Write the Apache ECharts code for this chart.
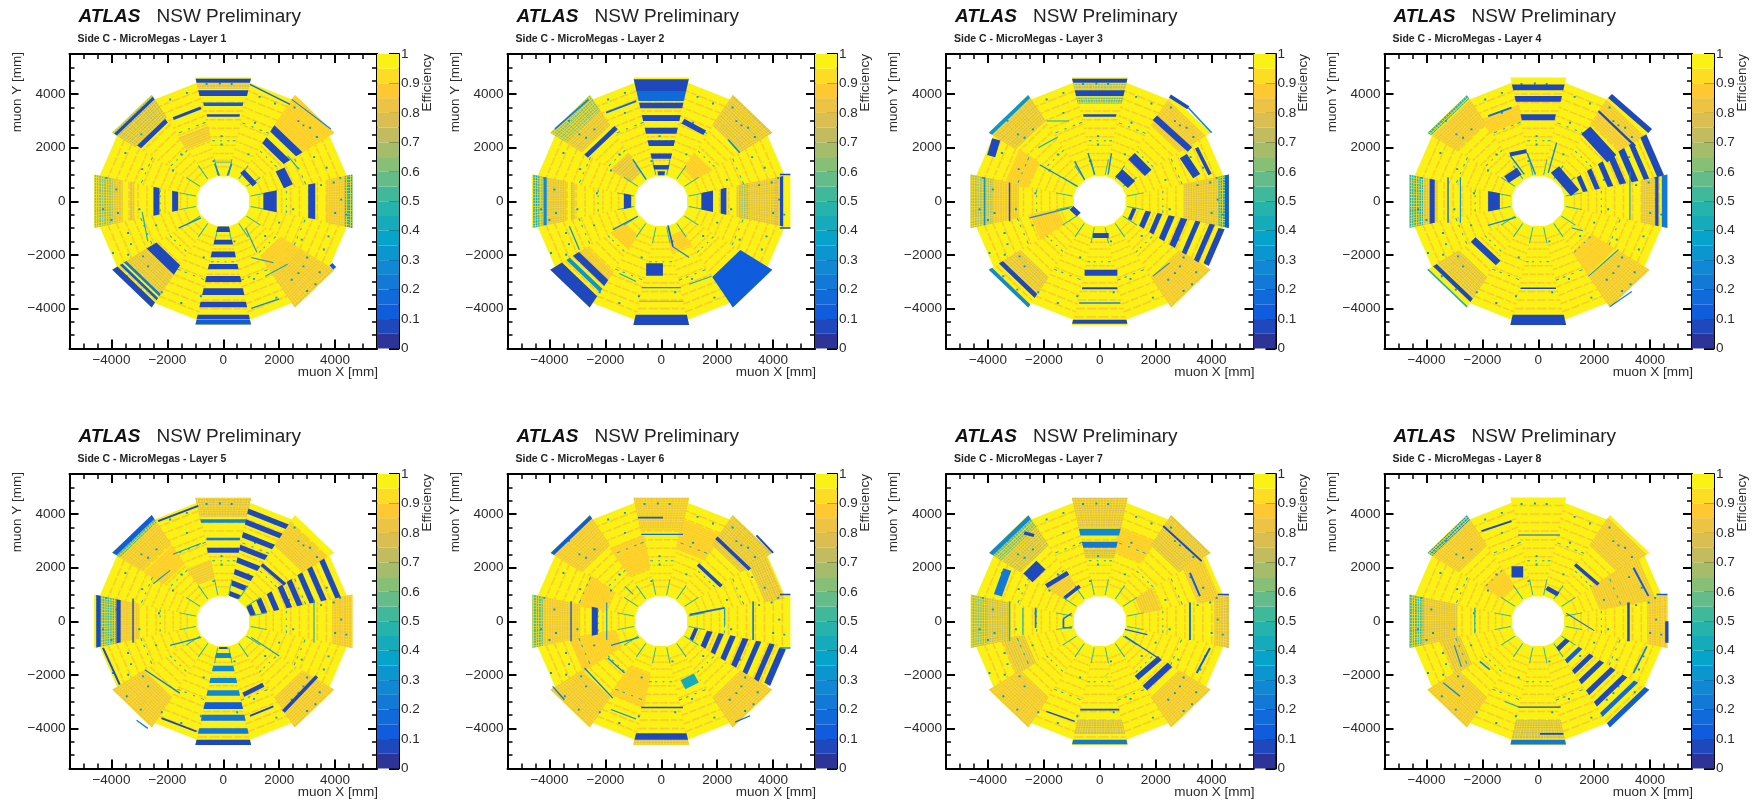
<!DOCTYPE html>
<html><head><meta charset="utf-8">
<style>html,body{margin:0;background:#fff}#c{width:1754px;height:800px;filter:blur(.4px)}</style>
<script src="https://cdn.jsdelivr.net/npm/echarts@6/dist/echarts.min.js"></script>
</head><body><div id="c"></div><script>
// ---------- tick labels and scale ----------
const xyLabels=[-4000,-2000,0,2000,4000];
const effLevels=[0,.05,.1,.15,.2,.25,.3,.35,.4,.45,.5,.55,.6,.65,.7,.75,.8,.85,.9,.95];
const birdR=[.2082,.0592,.0780,.0232,.1802,.5301,.8186,.9956,.9764];
const birdG=[.1664,.3599,.5041,.6419,.7178,.7492,.7328,.7862,.9832];
const birdB=[.5293,.8684,.8385,.7914,.6425,.4662,.3499,.1968,.0539];
// ---------- detector structures common to every layer (mm) ----------
const baseEff=.975;
const largeRings=[1260,1500,1760,2060,2380,2700,3020,3340,3660,3980,4300];
const smallRings=[1380,1640,1930,2220,2540,2860,3180,3500,3820,4120];
const ringSegs=[[-.98,-.62],[-.52,-.14],[-.06,.34],[.44,.72],[.8,.98]];
const mottleR=[40,130,215,310,390,490,570,665,750,850,930,1020,1110,1190,1290];
const mottleV=[-.92,-.81,-.72,-.6,-.5,-.37,-.27,-.15,-.04,.07,.19,.28,.41,.52,.63,.71,.83,.93];
const tealArcs=[[1,2950],[3,2950],[5,2950],[7,2950],[9,2950],[11,2950],[13,2950],[15,2950],[0,2240],[2,2240],[4,2240],[6,2240],[8,2240],[10,2240],[12,2240],[14,2240]];
const tealSegs=[[-.9,-.7],[-.45,-.3],[.1,.22],[.6,.8]];
const spokeAngles=[11.25,33.75,56.25,78.75,101.25,123.75,146.25,168.75,191.25,213.75,236.25,258.75,281.25,303.75,326.25,348.75];
const pillars=[[2868,2833],[2689,2995],[3107,2746],[2689,-2683],[2868,-2434],[2450,-2933],[-598,4380],[-120,4400],[300,4380],[-4182,874],[-3764,-437],[-3824,437],[4182,874],[4218,62],[-2868,-2059],[-2689,-2434],[-2928,2496],[-2390,2683],[-2689,2371],[-60,2434],[-60,2122],[1135,2933],[-3944,-1935],[3764,-1310],[-3406,-1185],[2808,-1435],[4003,-437],[1900,-3600],[-1500,-3800],[-1300,3300],[3500,600],[-3000,-300],[1500,-1300],[-700,-2100],[3300,-3100],[-3300,3000],[-2400,-900],[-1800,1150],[2350,800],[2000,-800],[-3500,1800],[-2900,1200],[3250,1650],[3700,1250],[-3400,-2000],[-2200,-3400],[1300,3900],[1850,3650],[-1300,4050],[-1900,3800],[-800,-3550],[500,-3400],[1100,-2900],[3000,-2100],[3600,-1800],[-3300,-1600],[-1500,1750],[900,1750],[400,-1500],[-350,1500],[2500,-300],[-2300,300],[4400,-500],[-4300,-300],[-4000,-700],[3950,700],[2550,3500],[3350,2400],[3000,-3350],[3450,-2650],[-2950,-3300],[-3450,-2800]];
// ---------- layer data: tones [sector,r0,r1,eff], strips [sector,r0,r1,eff,v0,v1], bands [x1,y1,x2,y2,thick,eff] ----------
const layer1Tones=[[5,2300,2800,.85],[14,2400,3200,.88],[6,3650,4430,.72],[6,4540,4620,.6],[10,3200,4000,.8],[14,3200,4620,.83],[2,3300,4620,.86],[0,3700,4350,.82],[0,4350,4500,.5],[0,4500,4620,.36],[8,3950,4600,.62],[8,3600,3950,.78],[8,3180,3330,.8],[4,4200,4400,.8]];
const layer1Strips=[[12,940,1150,.06],[12,1440,1620,.06],[12,1880,2090,.06],[12,2340,2540,.06],[12,2790,3020,.06],[12,3250,3500,.06],[12,3750,3960,.06],[12,4240,4420,.06],[12,4440,4600,.12],[4,4430,4580,.06],[4,3930,4150,.06],[4,3560,3690,.15,-.9,.9],[4,3160,3250,.06,-.85,.85],[6,4430,4540,.06],[6,3480,3650,.06,-.9,.9],[10,4400,4620,.06],[10,4030,4130,.25],[10,4200,4300,.15],[10,2780,3190,.06],[2,3030,3300,.06],[2,2515,2785,.06],[0,3040,3290,.06,-.95,.95],[0,1434,1912,.06],[8,2282,2498,.06],[8,1613,1828,.06]];
const layer1Bands=[[956,4368,2390,3619,50,.2],[2450,3806,3850,2700,40,.3],[-1790,3090,-800,3490,110,.06],[2031,1186,2330,562,350,.06],[680,1120,1130,620,200,.06],[-2900,-400,-2700,-1500,40,.4],[-1600,-1000,-800,-620,50,.3],[1000,-4000,2000,-3650,50,.3],[800,-1000,1200,-1900,40,.35],[1000,-2100,1800,-2300,40,.35],[-300,1400,-150,950,60,.3],[300,1400,150,950,60,.3],[-280,1460,300,1460,30,.4],[3850,-2350,3990,-2500,140,.12],[1500,-2800,2300,-2350,40,.4],[2300,1700,2700,1200,40,.4]];
const layer2Tones=[[6,1300,2100,.8],[10,1500,2100,.88],[2,1400,2100,.88],[13,1300,1900,.88],[6,3950,4600,.62],[6,3300,3950,.8],[2,3300,4620,.78],[0,2700,4200,.8],[0,2800,3100,.7],[8,4362,4577,.45],[8,4080,4362,.65],[8,3400,4080,.76],[8,3100,3230,.72],[10,3100,3420,.82]];
const layer2Strips=[[4,4120,4560,.06],[4,3740,4120,.2],[4,3470,3680,.06],[4,3000,3220,.06],[4,2520,2750,.06],[4,2060,2280,.06],[4,1585,1785,.06],[4,1185,1350,.06],[4,970,1120,.06,-.55,.55],[12,4240,4620,.06],[12,3200,3250,.3],[12,3720,3760,.7],[14,3290,4620,.12],[10,4130,4620,.06],[10,3800,3950,.35],[10,3420,3680,.06],[0,1434,1852,.06],[0,2127,2330,.06],[0,4242,4362,.06],[8,4100,4210,.3],[8,1075,1338,.06]];
const layer2Bands=[[-540,-2550,60,-2550,470,.06],[-2689,1685,-1613,2746,170,.06],[-1972,3307,-896,3744,70,.2],[777,2995,1553,2558,200,.06],[2390,2309,2808,1810,60,.3],[4242,1000,4620,1000,60,.06],[4242,-1000,4620,-1000,60,.06],[813,-1897,815,-1899,200,.1],[-3286,-936,-2928,-1810,45,.35],[-1016,1560,-538,811,50,.3],[-1732,-1060,-836,-560,50,.25],[-1500,-2700,-900,-3000,40,.45],[240,-900,420,-1700,60,.15],[420,-1700,1000,-2100,40,.3],[-3800,2700,-2600,3800,60,.25],[1000,-3100,1800,-2800,40,.4]];
const layer3Tones=[[7,2600,3400,.88],[9,1500,2500,.88],[6,3500,4480,.76],[10,3300,4000,.8],[0,3000,4250,.8],[0,4250,4480,.45],[8,3800,4620,.7],[8,2900,3800,.85],[2,3300,4400,.82],[14,3300,4600,.84],[4,4170,4420,.7],[4,3650,3900,.6]];
const layer3Strips=[[4,4430,4580,.06],[4,3930,4150,.06],[4,3160,3250,.06,-.85,.85],[12,4430,4580,.06],[12,3210,3290,.1,-.9,.9],[12,3770,3830,.3,-.9,.9],[6,4480,4620,.35],[10,4480,4620,.3],[10,4030,4200,.06],[15,1180,1320,.06,-.9,.9],[15,1650,1850,.06,-.9,.9],[15,2070,2250,.06,-.9,.9],[15,2480,2700,.06,-.9,.9],[15,2920,3150,.06,-.9,.9],[15,3440,3620,.06,-.9,.9],[15,3950,4140,.06,-.9,.9],[15,4310,4530,.06,-.8,.8],[0,4480,4620,.12]];
const layer3Bands=[[-540,-2670,630,-2670,220,.06],[-240,-1280,320,-1280,190,.06],[-3705,2309,-3884,1685,300,.06],[1972,3120,3227,1934,230,.06],[2510,3931,3167,3494,130,.06],[3167,3494,4003,2558,60,.3],[2988,1685,3466,936,300,.06],[3466,1997,3944,998,130,.06],[1135,1685,1733,1061,330,.06],[681,1061,1135,624,370,.06],[-3227,700,-3227,-750,50,.08],[-4120,900,-4120,-900,50,.35],[-2510,-624,-1075,-250,50,.3],[-1010,-250,-750,-500,200,.06],[-2150,1360,-780,550,45,.3],[-420,1800,-180,1000,50,.3],[420,1800,300,1000,50,.3],[-900,1500,-540,800,50,.3],[-2200,2000,-1500,2400,40,.4],[-1900,3000,-1100,3000,40,.4],[1900,-2800,2500,-2300,40,.3]];
const layer4Tones=[[14,2200,3200,.88],[5,3000,3600,.88],[0,3700,4180,.8],[8,3600,4100,.8],[8,4123,4600,.5],[6,3400,4400,.85],[6,4450,4600,.5],[10,3300,4200,.8],[14,3300,4620,.82],[2,3400,4400,.82]];
const layer4Strips=[[4,4150,4360,.06],[4,3720,3930,.06],[4,3030,3245,.06,-.9,.9],[12,4240,4620,.06],[12,3220,3280,.1,-.9,.9],[1,4280,4530,.06,-.9,.9],[1,3800,3990,.06,-.9,.9],[1,3360,3600,.06,-.9,.9],[1,2930,3160,.06,-.9,.9],[1,2500,2700,.06,-.9,.9],[1,2040,2220,.06,-.9,.9],[1,1610,1780,.06,-.9,.9],[0,4183,4302,.06],[0,4421,4620,.25],[8,3705,3884,.06],[8,1374,1793,.08],[10,4220,4380,.06],[10,4560,4620,.4]];
const layer4Bands=[[1700,2650,2630,1590,430,.06],[2151,3370,3466,2059,80,.06],[2570,3931,4003,2621,200,.06],[598,1186,1315,312,380,.06],[3280,1100,3280,-700,40,.35],[-3227,900,-3227,-800,50,.2],[-2784,900,-2784,-800,40,.35],[-1793,3182,-956,3494,70,.2],[-1016,1747,-418,1872,150,.06],[-1135,811,-680,1123,300,.06],[358,1061,657,2184,50,.3],[-2330,-1435,-1434,-2309,240,.06],[2570,-3931,3346,-3370,50,.3],[1793,-2808,2868,-1810,40,.35],[-1000,1700,-500,1000,50,.3],[-400,1800,-100,1000,50,.3],[-1800,-900,-800,-600,50,.3],[1200,-1000,1600,-1100,40,.35]];
const layer5Tones=[[5,1600,2300,.85],[6,2500,3300,.88],[4,3900,4600,.8],[6,4300,4440,.55],[6,3400,4300,.82],[8,4385,4540,.5],[8,3830,4385,.55],[8,3000,3650,.85],[0,3900,4620,.85],[2,3300,4300,.82],[10,3300,4600,.83],[14,3300,4600,.84]];
const layer5Strips=[[12,4430,4620,.06],[12,4000,4200,.22],[12,3490,3720,.25],[12,3030,3280,.15],[12,2580,2780,.3],[12,2120,2310,.3],[12,1660,1870,.3],[12,1190,1370,.3],[12,960,1040,.1,-.7,.7],[4,3680,3810,.3],[4,3030,3120,.25,-.9,.9],[4,2560,2745,.06],[6,4440,4620,.15],[3,4035,4235,.06,-.9,.9],[3,3634,3834,.06,-.9,.9],[3,3148,3348,.06,-.9,.9],[3,2676,2876,.06,-.9,.9],[3,2204,2404,.06,-.9,.9],[3,1766,1966,.06,-.9,.9],[3,1339,1539,.06,-.9,.9],[3,960,1140,.06,-.9,.9],[1,4030,4230,.06,-.9,.9],[1,3518,3718,.06,-.9,.9],[1,3107,3307,.06,-.9,.9],[1,2656,2856,.06,-.9,.9],[1,2278,2478,.06,-.9,.9],[1,1820,2020,.06,-.9,.9],[1,1385,1585,.06,-.9,.9],[1,970,1170,.06,-.9,.9],[8,4385,4540,.06],[8,3669,3824,.06]];
const layer5Bands=[[1374,2122,2211,1373,130,.06],[-3227,850,-3227,-800,50,.1],[-2330,3744,-896,4306,70,.08],[-4302,-998,-3705,-2371,70,.08],[-2211,-3619,-956,-4118,70,.06],[-2808,-1810,-1554,-2683,50,.25],[2151,-3370,3346,-2059,130,.06],[717,-2746,1434,-2371,160,.06],[956,-3532,1793,-3182,70,.1],[-3100,-3700,-2700,-4000,50,.3],[3246,800,3246,-800,40,.4],[-1800,2500,-800,2900,40,.35],[-1900,1900,-2500,1400,40,.35],[-1900,-900,-800,-600,50,.3],[1000,-600,2000,-1300,40,.35]];
const layer6Tones=[[5,2000,3200,.88],[7,2000,3000,.88],[9,1700,3300,.88],[11,2000,3200,.88],[3,2700,3800,.88],[8,2900,4600,.82],[8,4240,4600,.55],[6,3300,4480,.84],[2,3300,4600,.78],[10,3300,4600,.84],[14,3300,4600,.84],[4,3400,4600,.84],[12,4430,4600,.8],[1,3700,4400,.78]];
const layer6Strips=[[15,1190,1330,.06,-.9,.9],[15,1650,1850,.06,-.9,.9],[15,2070,2250,.06,-.9,.9],[15,2480,2680,.06,-.9,.9],[15,2930,3140,.06,-.9,.9],[15,3410,3600,.06,-.9,.9],[15,3890,4080,.06,-.9,.9],[15,4280,4520,.06,-.8,.8],[8,2270,2486,.06],[6,4460,4600,.15],[12,4180,4430,.1]];
const layer6Bands=[[1972,3120,3167,1934,130,.06],[1315,2122,2151,1310,130,.06],[3406,3207,4003,2558,70,.1],[-3227,750,-3227,-750,50,.15],[-1950,700,-1950,-700,40,.35],[-836,3869,60,3869,70,.12],[-717,3245,777,3245,40,.2],[-717,-3220,777,-3220,50,.08],[777,-2371,1255,-2122,380,.42],[4242,1000,4620,1000,50,.1],[4242,-1000,4620,-1000,50,.3],[-2748,-1747,-1733,-2870,50,.25],[-1912,-1373,-1315,-1934,50,.3],[-1800,-3300,-900,-3650,40,.3],[1016,250,2270,499,70,.2],[3286,750,3286,-700,60,.25],[2270,500,2270,-150,40,.35],[2640,-3770,3180,-3530,50,.2],[-3884,-2434,-3465,-2933,50,.25],[-1000,1000,-1300,1300,40,.4],[-1800,-900,-800,-600,50,.3]];
const layer7Tones=[[9,2700,3500,.8],[6,1600,2200,.85],[3,2600,3500,.88],[1,1500,2200,.85],[4,3500,4600,.78],[4,2350,2700,.72],[6,4100,4440,.6],[6,3300,4100,.75],[8,4063,4600,.65],[8,3200,4060,.75],[0,4100,4620,.78],[2,3300,4600,.8],[12,3700,4200,.75],[10,3300,4600,.84],[14,3300,4600,.83],[1,3500,4300,.82]];
const layer7Strips=[[4,3207,3457,.3],[4,2745,2970,.25],[6,4440,4600,.3],[12,4430,4590,.25]];
const layer7Bands=[[-3310,1934,-3645,973,300,.25],[-2103,2097,-2569,1622,460,.06],[-1912,1310,-1135,1810,170,.06],[-1255,874,-717,1310,130,.06],[-1300,100,-1300,-250,60,.2],[-1000,300,-1300,100,50,.2],[-1000,-250,-1300,-250,50,.2],[-2294,500,-2294,-250,60,.25],[-2750,500,-2750,-500,40,.4],[-3227,750,-3227,-750,50,.5],[3227,700,3227,-700,70,.2],[4220,1000,4620,1000,50,.08],[2270,3557,3645,2246,70,.1],[3227,1810,3585,936,70,.15],[3466,-1934,3944,-998,70,.15],[1315,-2122,2151,-1373,200,.06],[1613,-2496,2510,-1622,230,.06],[896,-562,2091,-1373,50,.12],[-1912,-3370,-896,-3744,50,.08],[239,-1997,241,-1999,200,.3],[-700,-3300,700,-3300,70,.1],[-2700,3300,-2350,3200,120,.08],[900,-300,1700,-500,50,.12]];
const layer8Tones=[[6,1500,2300,.9],[1,2200,3000,.85],[9,2800,3500,.8],[8,4100,4600,.55],[8,2900,4100,.8],[6,4400,4600,.35],[6,3300,4400,.82],[12,3700,4400,.75],[10,3300,4600,.85],[2,3300,4500,.83],[0,3900,4620,.85],[1,3000,4200,.83]];
const layer8Strips=[[14,4430,4620,.12],[14,3990,4150,.2],[14,3540,3740,.06,-.95,.95],[14,3040,3240,.06,-.95,.95],[14,2570,2760,.06,-.95,.95],[14,2150,2320,.06,-.95,.95],[14,1690,1850,.15,-.95,.95],[14,1140,1320,.06,-.95,.95],[12,4430,4600,.25]];
const layer8Bands=[[1314,2122,2151,1373,130,.06],[-956,1847,-538,1847,420,.06],[299,1248,717,998,170,.06],[-2032,3370,-956,3744,70,.08],[3406,1997,3944,936,70,.12],[3227,700,3227,-750,90,.1],[4600,0,4600,-800,120,.1],[-717,3220,777,3220,40,.15],[60,-4206,900,-4206,60,.06],[-717,-3207,800,-3207,40,.08],[3406,-1934,3884,-936,60,.25],[-2091,-1497,-1733,-1810,60,.3],[-3400,-2300,-2800,-2800,50,.3],[-2211,686,-2209,684,100,.1],[-2270,500,-2270,-450,40,.4],[4230,1000,4620,1000,50,.15],[-3000,-900,-2750,-1700,40,.3],[-1200,-3000,-700,-3200,40,.4],[1000,300,2000,-350,40,.2]];
const layerTones=[layer1Tones,layer2Tones,layer3Tones,layer4Tones,layer5Tones,layer6Tones,layer7Tones,layer8Tones];
const layerStrips=[layer1Strips,layer2Strips,layer3Strips,layer4Strips,layer5Strips,layer6Strips,layer7Strips,layer8Strips];
const layerBands=[layer1Bands,layer2Bands,layer3Bands,layer4Bands,layer5Bands,layer6Bands,layer7Bands,layer8Bands];

// ---------- page layout ----------
const frameLefts=[69.5,507.5,946,1384.5], frameTops=[54,474], frameW=307.5, frameH=294.5, barW=22;
const FONT='"Liberation Sans",Arial,sans-serif', TXT='#2a2a2a', LS=13.5;

function secPoly(s,r0,r1,v0,v1,eff){
  const a=s*22.5*Math.PI/180,c=Math.cos(a),n=Math.sin(a),w=s%2?.205:.216;
  const P=(r,v)=>[r*c-v*w*r*n,r*n+v*w*r*c];
  return [...P(r0,v0),...P(r0,v1),...P(r1,v1),...P(r1,v0),eff];
}
function band(x1,y1,x2,y2,t,eff){
  const dx=x2-x1,dy=y2-y1,l=Math.hypot(dx,dy)||1,px=-dy/l*t/2,py=dx/l*t/2;
  return [x1+px,y1+py,x2+px,y2+py,x2-px,y2-py,x1-px,y1-py,eff];
}
function layerPolys(i){
  const out=[];
  for(let s=1;s<16;s+=2)out.push(secPoly(s,945,4450,-1.03,1.03,baseEff));
  for(let s=0;s<16;s+=2)out.push(secPoly(s,925,4620,-1,1,baseEff));
  for(let s=0;s<16;s++){const big=s%2===0,k=big?1:.96;
    for(const r of big?largeRings:smallRings)for(const g of ringSegs)out.push(secPoly(s,r,r+55,g[0]*k,g[1]*k,.87));}
  for(const t of layerTones[i]){
    out.push(secPoly(t[0],t[1],t[2],-1,1,t[3]));
    for(const d of mottleR){if(t[1]+d+30<t[2])out.push(secPoly(t[0],t[1]+d,t[1]+d+30,-1,1,.93));}
    for(const v of mottleV)out.push(secPoly(t[0],t[1],t[2],v,v+.025,.93));
  }
  for(const a of tealArcs)for(const g of tealSegs)out.push(secPoly(a[0],a[1],a[1]+35,g[0],g[1],.45));
  for(const a of spokeAngles){const q=a*Math.PI/180;
    out.push(band(1000*Math.cos(q),1000*Math.sin(q),1600*Math.cos(q),1600*Math.sin(q),35,.5));}
  for(const p of pillars)out.push(band(p[0]-35,p[1],p[0]+35,p[1],70,.32));
  for(const t of layerStrips[i])out.push(secPoly(t[0],t[1],t[2],t[4]===undefined?-1:t[4],t[5]===undefined?1:t[5],t[3]));
  for(const b of layerBands[i])out.push(band(...b));
  return out;
}
function renderPoly(p,api){
  const pts=[];for(let k=0;k<4;k++)pts.push(api.coord([api.value(2*k),api.value(2*k+1)]));
  return {type:'polygon',silent:true,shape:{points:pts},style:{fill:api.visual('color')}};
}
const birdAt=t=>{const u=t*8,k=Math.min(7,Math.floor(u)),f=u-k,h=A=>Math.round(255*(A[k]+(A[k+1]-A[k])*f));
  return `rgb(${h(birdR)},${h(birdG)},${h(birdB)})`;};
const pieces=effLevels.map((l,k)=>({gte:l,lte:l+.05,color:birdAt((k+.5)/20)}));

const grid=[],xAxis=[],yAxis=[],series=[],graphic=[];
const line={show:true,onZero:false,lineStyle:{color:'#000',width:2}};
const noLine={show:false,onZero:false};
const minus=v=>String(v).replace('-','\u2212');
function addXY(g,isLine,major,labelled,pos,dim){
  const base={type:'value',gridIndex:g,min:-5500,max:5500,position:pos,axisLine:isLine?line:noLine,splitLine:{show:false},
    axisTick:major?{show:true,inside:true,length:9,customValues:xyLabels,lineStyle:{color:'#000',width:2}}
                  :{show:true,inside:true,length:5,lineStyle:{color:'#000',width:1.5}},
    axisLabel:labelled?{show:true,customValues:xyLabels,formatter:minus,margin:dim==='x'?5:4,color:TXT,fontFamily:FONT,fontSize:LS}:{show:false}};
  if(!major)base.interval=500;
  (dim==='x'?xAxis:yAxis).push(base);
  return (dim==='x'?xAxis:yAxis).length-1;
}
const seriesIdx=[];
const axisFont=LS+'px '+FONT;
for(let i=0;i<8;i++){
  const L=frameLefts[i%4],T=frameTops[i<4?0:1];
  const gA=grid.length;grid.push({left:L,top:T,width:frameW,height:frameH,containLabel:false});
  const xa=addXY(gA,true,false,true,'bottom','x');addXY(gA,true,false,false,'top','x');
  const ya=addXY(gA,true,false,true,'left','y');addXY(gA,true,false,false,'right','y');
  const gB=grid.length;grid.push({left:L,top:T,width:frameW,height:frameH,containLabel:false});
  addXY(gB,false,true,false,'bottom','x');addXY(gB,false,true,false,'top','x');
  addXY(gB,false,true,false,'left','y');addXY(gB,false,true,false,'right','y');
  seriesIdx.push(series.length);
  series.push({type:'custom',xAxisIndex:xa,yAxisIndex:ya,data:layerPolys(i),renderItem:renderPoly,clip:true,progressive:0,animation:false,silent:true,
    dimensions:['x1','y1','x2','y2','x3','y3','x4','y4','eff'],encode:{x:[0,2,4,6],y:[1,3,5,7]}});
  const gC=grid.length;grid.push({left:L+frameW,top:T,width:barW,height:frameH,containLabel:false});
  xAxis.push({type:'value',gridIndex:gC,min:0,max:1,show:false});
  const xc=xAxis.length-1;
  yAxis.push({type:'value',gridIndex:gC,min:0,max:1,interval:.1,position:'right',axisLine:line,splitLine:{show:false},
    axisTick:{show:true,inside:true,length:10,lineStyle:{color:'#000',width:2}},
    axisLabel:{show:true,margin:2,color:TXT,fontFamily:FONT,fontSize:LS,formatter:v=>String(+v.toFixed(1))}});
  seriesIdx.push(series.length);
  series.push({type:'custom',xAxisIndex:xc,yAxisIndex:yAxis.length-1,z:1,renderItem:renderPoly,progressive:0,animation:false,silent:true,
    data:effLevels.map(l=>[0,l,1,l,1,l+.05,0,l+.05,l+.025]),
    dimensions:['x1','y1','x2','y2','x3','y3','x4','y4','eff'],encode:{x:[0,2,4,6],y:[1,3,5,7]}});
  graphic.push({type:'text',x:L+9,y:T-37,style:{text:'ATLAS',font:'italic bold 19px '+FONT,fill:'#111',textVerticalAlign:'middle'}});
  graphic.push({type:'text',x:L+87,y:T-37,style:{text:'NSW Preliminary',font:'19px '+FONT,fill:'#222',textVerticalAlign:'middle'}});
  graphic.push({type:'text',x:L+8,y:T-15,style:{text:'Side C - MicroMegas - Layer '+(i+1),font:'bold 10.5px '+FONT,fill:'#222',textVerticalAlign:'middle'}});
  graphic.push({type:'text',x:L+frameW+1,y:T+frameH+23.5,style:{text:'muon X [mm]',font:axisFont,fill:TXT,textAlign:'right',textVerticalAlign:'middle'}});
  graphic.push({type:'text',x:L-52.5,y:T-2,rotation:Math.PI/2,style:{text:'muon Y [mm]',font:axisFont,fill:TXT,textAlign:'right',textVerticalAlign:'middle'}});
  graphic.push({type:'text',x:L+frameW+barW+28,y:T,rotation:Math.PI/2,style:{text:'Efficiency',font:axisFont,fill:TXT,textAlign:'right',textVerticalAlign:'middle'}});
}
const chart=echarts.init(document.getElementById('c'),null,{width:1754,height:800,renderer:'canvas'});
chart.setOption({animation:false,backgroundColor:'#fff',grid,xAxis,yAxis,series,graphic,
  visualMap:{show:false,type:'piecewise',dimension:8,seriesIndex:seriesIdx,pieces}});
</script></body></html>
